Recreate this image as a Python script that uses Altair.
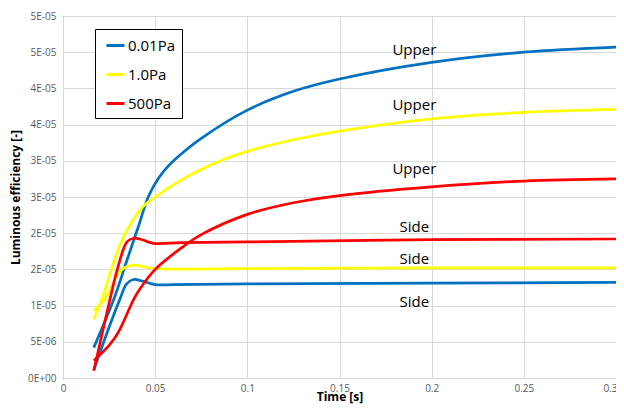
import altair as alt
import pandas as pd

# ---- data (values in units of 1e-5) ----
pressures = ["0.01Pa", "1.0Pa", "500Pa"]
colors = ["#0070C0", "#FFFF00", "#FF0000"]

blue_upper_t = [0.0167, 0.0276, 0.035, 0.041, 0.0464, 0.0518, 0.0572, 0.0635, 0.075, 0.1, 0.125, 0.15, 0.2, 0.25, 0.3]
blue_upper_v = [0.42, 1.09, 1.65, 2.10, 2.51, 2.76, 2.93, 3.08, 3.31, 3.70, 3.96, 4.13, 4.36, 4.50, 4.57]

blue_side_t = [0.0167, 0.025, 0.0309, 0.0345, 0.0383, 0.043, 0.05, 0.06, 0.1, 0.2, 0.3]
blue_side_v = [0.11, 0.70, 1.09, 1.30, 1.36, 1.34, 1.29, 1.29, 1.30, 1.31, 1.32]

yellow_upper_t = [0.0167, 0.0211, 0.025, 0.03, 0.0338, 0.0428, 0.05, 0.0625, 0.075, 0.0875, 0.1, 0.125, 0.15, 0.2, 0.25, 0.3]
yellow_upper_v = [0.81, 1.09, 1.40, 1.78, 2.00, 2.35, 2.50, 2.71, 2.88, 3.02, 3.13, 3.29, 3.41, 3.58, 3.67, 3.71]

yellow_side_t = [0.0167, 0.0227, 0.0302, 0.0338, 0.038, 0.045, 0.05, 0.1, 0.2, 0.3]
yellow_side_v = [0.93, 1.09, 1.45, 1.53, 1.56, 1.53, 1.51, 1.51, 1.52, 1.52]

red_upper_t = [0.0167, 0.025, 0.03, 0.0384, 0.0417, 0.05, 0.0644, 0.075, 0.1, 0.125, 0.15, 0.2, 0.25, 0.3]
red_upper_v = [0.24, 0.45, 0.63, 1.09, 1.23, 1.50, 1.80, 1.98, 2.26, 2.42, 2.52, 2.64, 2.72, 2.75]

red_side_t = [0.0167, 0.0255, 0.03, 0.0347, 0.0383, 0.043, 0.049, 0.065, 0.1, 0.2, 0.3]
red_side_v = [0.10, 1.09, 1.55, 1.88, 1.93, 1.91, 1.86, 1.87, 1.88, 1.91, 1.92]

label_text = ["Upper", "Upper", "Upper", "Side", "Side", "Side"]
label_x = [0.1906, 0.1906, 0.1906, 0.1906, 0.1906, 0.1906]
label_y = [4.53, 3.77, 2.89, 2.08, 1.65, 1.05]

x_ticks = [0, 0.05, 0.1, 0.15, 0.2, 0.25, 0.3]
x_tick_labels = ["0", "0.05", "0.1", "0.15", "0.2", "0.25", "0.3"]
y_ticks = [0, 0.5, 1, 1.5, 2, 2.5, 3, 3.5, 4, 4.5, 5]
y_tick_labels = ["0E+00", "5E-06", "1E-05", "2E-05", "2E-05", "3E-05",
                 "3E-05", "4E-05", "4E-05", "5E-05", "5E-05"]
UNIT = 1e-5

series = [
    ("0.01Pa", "Upper", blue_upper_t, blue_upper_v),
    ("0.01Pa", "Side", blue_side_t, blue_side_v),
    ("1.0Pa", "Upper", yellow_upper_t, yellow_upper_v),
    ("1.0Pa", "Side", yellow_side_t, yellow_side_v),
    ("500Pa", "Upper", red_upper_t, red_upper_v),
    ("500Pa", "Side", red_side_t, red_side_v),
]
rows = []
for p, part, ts, vs in series:
    for t, v in zip(ts, vs):
        rows.append({"t": t, "v": v * UNIT, "pressure": p, "series": p + part})
df = pd.DataFrame(rows)

lab_df = pd.DataFrame({"t": label_x, "v": [y * UNIT for y in label_y], "text": label_text})

FONT = "Open Sans"
x_expr = "[" + ",".join("'%s'" % s for s in x_tick_labels) + "][round(datum.value/0.05)]"
y_expr = "[" + ",".join("'%s'" % s for s in y_tick_labels) + "][round(datum.value/5e-6)]"

x_enc = alt.X("t:Q", scale=alt.Scale(domain=[0, 0.3], nice=False, zero=False),
              axis=alt.Axis(values=x_ticks, labelExpr=x_expr, title="Time [s]",
                            ticks=False, tickSize=0, domain=False, grid=True,
                            labelFlush=False, labelPadding=5, titlePadding=-2,
                            labelOffset={"condition": {"test": "datum.value >= 0.299", "value": -6},
                                         "value": 0}))
y_enc = alt.Y("v:Q", scale=alt.Scale(domain=[0, 5 * UNIT], nice=False),
              axis=alt.Axis(values=[y * UNIT for y in y_ticks], labelExpr=y_expr,
                            title="Luminous efficiency [-]", ticks=False, tickSize=0,
                            labelFlush=False, domain=False, grid=True,
                            labelPadding=7, titlePadding=5))

lines = alt.Chart(df).mark_line(strokeWidth=2.7, interpolate="catmull-rom").encode(
    x=x_enc,
    y=y_enc,
    color=alt.Color("pressure:N", scale=alt.Scale(domain=pressures, range=colors),
                    legend=alt.Legend(title=None, orient="none", legendX=32, legendY=13,
                                      symbolType="stroke", symbolSize=324,
                                      symbolStrokeWidth=3, symbolOffset=4,
                                      labelFontSize=15, labelFont=FONT, labelColor="black",
                                      labelExpr="datum.label + '\u00a0\u00a0\u00a0'",
                                      rowPadding=10, padding=6, labelOffset=2,
                                      strokeColor="black", fillColor="white")),
    detail="series:N",
)

labels = alt.Chart(lab_df).mark_text(fontSize=15, font=FONT, color="black").encode(
    x=x_enc, y=y_enc, text="text:N"
)

chart = alt.layer(lines, labels).properties(
    width=553, height=362,
    autosize=alt.AutoSizeParams(type="none"),
    padding={"left": 55, "top": 8, "right": 0, "bottom": 28},
).configure_view(
    stroke="black", strokeWidth=1
).configure_axis(
    gridColor="#D9D9D9", gridWidth=1,
    labelFont=FONT, labelFontSize=10, labelColor="#595959",
    titleFont=FONT, titleFontSize=12, titleFontWeight="bold", titleColor="black",
)

chart.save("out.html", embed_options={"renderer": "svg", "actions": False})
